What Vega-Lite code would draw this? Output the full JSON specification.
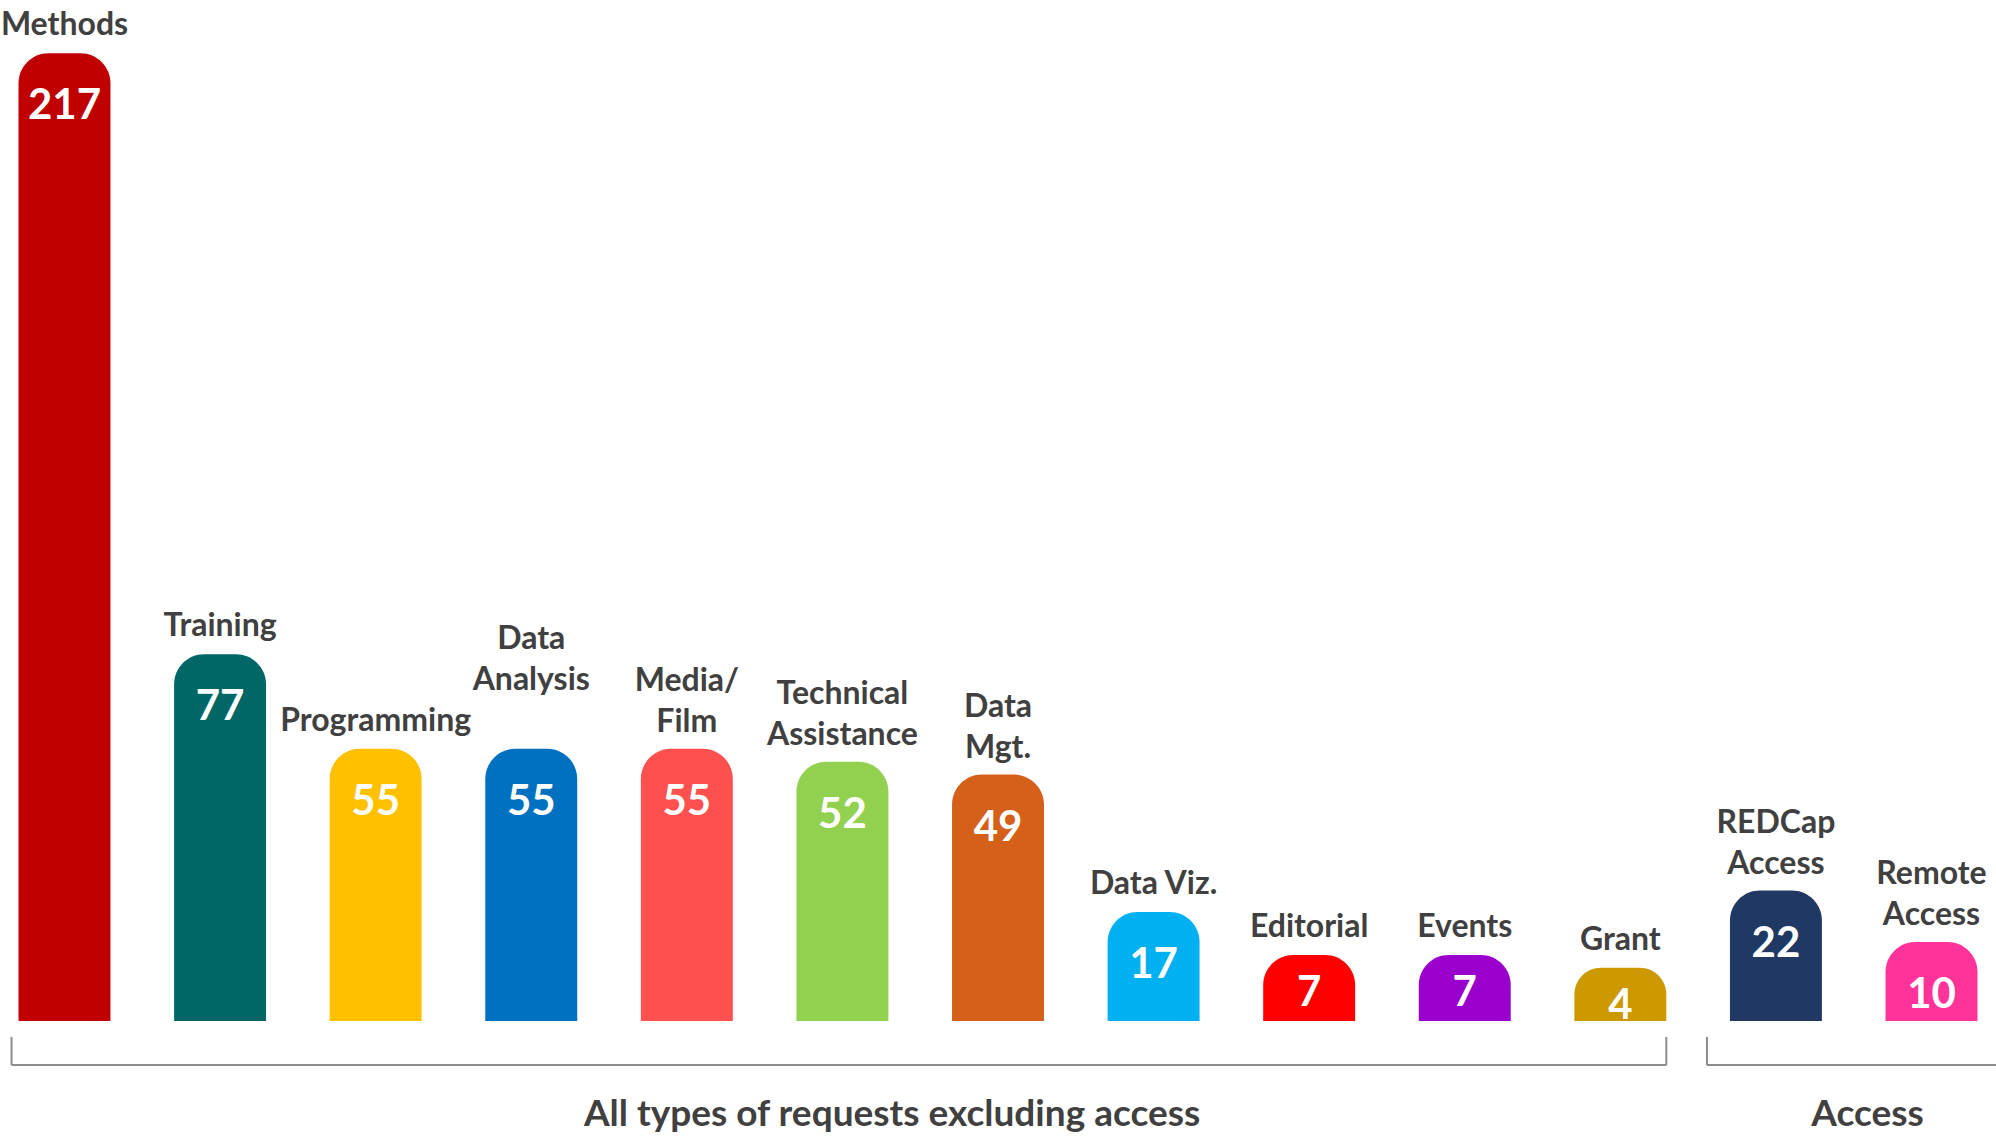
{
  "$schema": "https://vega.github.io/schema/vega-lite/v6.json",
  "width": 1996,
  "height": 1143,
  "autosize": {"type": "none"},
  "padding": 0,
  "background": "white",
  "config": {"view": {"stroke": null}, "font": "Lato"},
  "datasets": {
    "requests": [
      {"category": "Methods", "label": "Methods", "count": 217},
      {"category": "Training", "label": "Training", "count": 77},
      {"category": "Programming", "label": "Programming", "count": 55},
      {"category": "Data Analysis", "label": "Data\nAnalysis", "count": 55},
      {"category": "Media/Film", "label": "Media/\nFilm", "count": 55},
      {"category": "Technical Assistance", "label": "Technical\nAssistance", "count": 52},
      {"category": "Data Mgt.", "label": "Data\nMgt.", "count": 49},
      {"category": "Data Viz.", "label": "Data Viz.", "count": 17},
      {"category": "Editorial", "label": "Editorial", "count": 7},
      {"category": "Events", "label": "Events", "count": 7},
      {"category": "Grant", "label": "Grant", "count": 4},
      {"category": "REDCap Access", "label": "REDCap\nAccess", "count": 22},
      {"category": "Remote Access", "label": "Remote\nAccess", "count": 10}
    ],
    "brackets": [
      {"group": "All types of requests excluding access", "start": "Methods", "end": "Grant"},
      {"group": "Access", "start": "REDCap Access", "end": "Remote Access"}
    ]
  },
  "data": {"name": "requests"},
  "layer": [
    {
      "mark": {"type": "bar", "cornerRadiusTopLeft": 30, "cornerRadiusTopRight": 30},
      "encoding": {
        "x": {"field": "category", "type": "nominal", "axis": null, "sort": null,
          "scale": {"domain": ["Methods", "Training", "Programming", "Data Analysis", "Media/Film", "Technical Assistance", "Data Mgt.", "Data Viz.", "Editorial", "Events", "Grant", "REDCap Access", "Remote Access"], "paddingInner": 0.409, "paddingOuter": 0.119}},
        "y": {"field": "count", "type": "quantitative", "axis": null, "scale": {"domain": [-36.8, 229.4], "nice": false, "zero": false}},
        "y2": {"datum": -8.4},
        "color": {"field": "category", "type": "nominal", "legend": null,
          "scale": {"domain": ["Methods", "Training", "Programming", "Data Analysis", "Media/Film", "Technical Assistance", "Data Mgt.", "Data Viz.", "Editorial", "Events", "Grant", "REDCap Access", "Remote Access"],
            "range": ["#C00000", "#006666", "#FFC000", "#0070C0", "#FF5050", "#92D050", "#D5601A", "#00B0F0", "#FF0000", "#9900CC", "#CC9900", "#203864", "#FF3399"]}}
      }
    },
    {
      "transform": [{"filter": "datum.count >= 10"}],
      "mark": {"type": "text", "baseline": "middle", "align": "center", "dy": 53, "fontSize": 42, "fontWeight": "bold", "fill": "white"},
      "encoding": {
        "x": {"field": "category", "type": "nominal", "axis": null},
        "y": {"field": "count", "type": "quantitative", "axis": null},
        "text": {"field": "count"}
      }
    },
    {
      "transform": [{"filter": "datum.count < 10"}],
      "mark": {"type": "text", "baseline": "middle", "align": "center", "dy": 38, "fontSize": 42, "fontWeight": "bold", "fill": "white"},
      "encoding": {
        "x": {"field": "category", "type": "nominal", "axis": null},
        "y": {"field": "count", "type": "quantitative", "axis": null},
        "text": {"field": "count"}
      }
    },
    {
      "transform": [{"filter": {"field": "category", "oneOf": ["Methods", "Training", "Programming", "Data Viz.", "Editorial", "Events", "Grant"]}}],
      "mark": {"type": "text", "baseline": "bottom", "align": "center", "dy": -11, "fontSize": 32, "fontWeight": "bold", "fill": "#404040", "lineBreak": "\n", "lineHeight": 40},
      "encoding": {
        "x": {"field": "category", "type": "nominal", "axis": null},
        "y": {"field": "count", "type": "quantitative", "axis": null},
        "text": {"field": "label"}
      }
    },
    {
      "transform": [{"filter": {"field": "category", "oneOf": ["Media/Film", "Technical Assistance", "Data Mgt.", "REDCap Access", "Remote Access"]}}],
      "mark": {"type": "text", "baseline": "bottom", "align": "center", "dy": -51, "fontSize": 32, "fontWeight": "bold", "fill": "#404040", "lineBreak": "\n", "lineHeight": 41},
      "encoding": {
        "x": {"field": "category", "type": "nominal", "axis": null},
        "y": {"field": "count", "type": "quantitative", "axis": null},
        "text": {"field": "label"}
      }
    },
    {
      "transform": [{"filter": "datum.category === 'Data Analysis'"}],
      "mark": {"type": "text", "baseline": "bottom", "align": "center", "dy": -93, "fontSize": 32, "fontWeight": "bold", "fill": "#404040", "lineBreak": "\n", "lineHeight": 41},
      "encoding": {
        "x": {"field": "category", "type": "nominal", "axis": null},
        "y": {"field": "count", "type": "quantitative", "axis": null},
        "text": {"field": "label"}
      }
    },
    {
      "data": {"name": "brackets"},
      "transform": [{"filter": "datum.start === 'Methods'"}],
      "layer": [
        {
          "mark": {"type": "rule", "color": "#8C8C8C", "strokeWidth": 2, "xOffset": -7},
          "encoding": {
            "x": {"field": "start", "type": "nominal", "bandPosition": 0, "axis": null},
            "x2": {"field": "end", "bandPosition": 1},
            "y": {"datum": -18.63, "type": "quantitative"}
          }
        },
        {
          "mark": {"type": "rule", "color": "#8C8C8C", "strokeWidth": 2, "xOffset": -7},
          "encoding": {
            "x": {"field": "start", "type": "nominal", "bandPosition": 0, "axis": null},
            "y": {"datum": -12.1, "type": "quantitative"},
            "y2": {"datum": -18.63}
          }
        },
        {
          "mark": {"type": "rule", "color": "#8C8C8C", "strokeWidth": 2},
          "encoding": {
            "x": {"field": "end", "type": "nominal", "bandPosition": 1, "axis": null},
            "y": {"datum": -12.1, "type": "quantitative"},
            "y2": {"datum": -18.63}
          }
        },
        {
          "mark": {"type": "text", "baseline": "middle", "align": "center", "fontSize": 37, "fontWeight": "bold", "fill": "#404040"},
          "encoding": {
            "x": {"datum": "Technical Assistance", "type": "nominal", "bandPosition": 1.04, "axis": null},
            "y": {"datum": -30.3, "type": "quantitative"},
            "text": {"field": "group"}
          }
        }
      ]
    },
    {
      "data": {"name": "brackets"},
      "transform": [{"filter": "datum.start === 'REDCap Access'"}],
      "layer": [
        {
          "mark": {"type": "rule", "color": "#8C8C8C", "strokeWidth": 2, "xOffset": -23, "x2Offset": 40},
          "encoding": {
            "x": {"field": "start", "type": "nominal", "bandPosition": 0, "axis": null},
            "x2": {"field": "end", "bandPosition": 1},
            "y": {"datum": -18.63, "type": "quantitative"}
          }
        },
        {
          "mark": {"type": "rule", "color": "#8C8C8C", "strokeWidth": 2, "xOffset": -23},
          "encoding": {
            "x": {"field": "start", "type": "nominal", "bandPosition": 0, "axis": null},
            "y": {"datum": -12.1, "type": "quantitative"},
            "y2": {"datum": -18.63}
          }
        },
        {
          "mark": {"type": "text", "baseline": "middle", "align": "center", "fontSize": 37, "fontWeight": "bold", "fill": "#404040"},
          "encoding": {
            "x": {"datum": "REDCap Access", "type": "nominal", "bandPosition": 1.497, "axis": null},
            "y": {"datum": -30.3, "type": "quantitative"},
            "text": {"field": "group"}
          }
        }
      ]
    }
  ]
}
